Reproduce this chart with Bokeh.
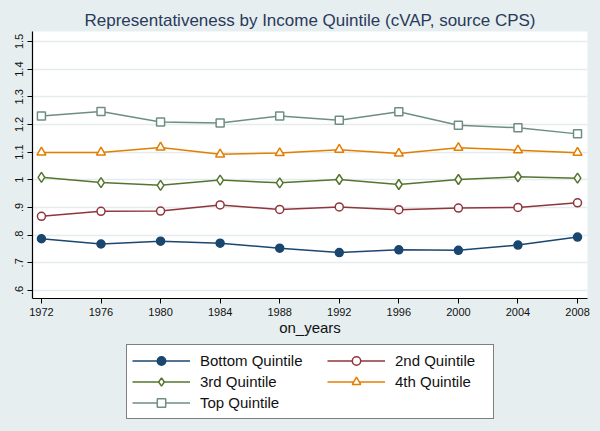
from bokeh.plotting import figure
from bokeh.models import Legend, LegendItem, FixedTicker, Range1d, Title
from bokeh.layouts import column
from bokeh.embed import file_html
from bokeh.resources import INLINE

years = [1972, 1976, 1980, 1984, 1988, 1992, 1996, 2000, 2004, 2008]
bottom_q = [0.787, 0.768, 0.778, 0.771, 0.753, 0.737, 0.747, 0.745, 0.764, 0.793]
second_q = [0.868, 0.886, 0.887, 0.909, 0.893, 0.902, 0.892, 0.898, 0.900, 0.917]
third_q = [1.009, 0.990, 0.980, 0.999, 0.989, 1.001, 0.983, 1.001, 1.011, 1.006]
fourth_q = [1.099, 1.099, 1.117, 1.092, 1.097, 1.109, 1.095, 1.116, 1.107, 1.098]
top_q = [1.231, 1.247, 1.209, 1.205, 1.231, 1.215, 1.246, 1.197, 1.188, 1.166]

y_ticks = [0.6, 0.7, 0.8, 0.9, 1.0, 1.1, 1.2, 1.3, 1.4, 1.5]
y_tick_labels = [".6", ".7", ".8", ".9", "1", "1.1", "1.2", "1.3", "1.4", "1.5"]

BG = "#E6EEF0"
FONT = "Liberation Sans"

p = figure(width=600, height=340, output_backend="svg", toolbar_location=None,
           x_range=Range1d(1971.4, 2008.67), y_range=Range1d(0.571, 1.536),
           min_border_left=32, min_border_right=13, min_border_top=31, min_border_bottom=42)
p.background_fill_color = "white"
p.border_fill_color = BG
p.outline_line_color = None

p.title = Title(text="Representativeness by Income Quintile (cVAP, source CPS)",
                align="center", text_font=FONT, text_font_size="17px",
                text_font_style="normal", text_color="#2a3a5a", standoff=3)

p.xgrid.visible = False
p.ygrid.grid_line_color = "#E4ECEE"
p.ygrid.grid_line_width = 1.5

p.xaxis.ticker = FixedTicker(ticks=years)
p.yaxis.ticker = FixedTicker(ticks=y_ticks)
p.yaxis.major_label_overrides = {t: l for t, l in zip(y_ticks, y_tick_labels)}
p.yaxis.major_label_orientation = "vertical"
for ax in (p.xaxis[0], p.yaxis[0]):
    ax.axis_line_color = "black"
    ax.axis_line_width = 1.2
    ax.major_tick_line_color = "black"
    ax.major_tick_out = 5
    ax.major_tick_in = 0
    ax.minor_tick_line_color = None
    ax.major_label_text_font = FONT
    ax.major_label_text_font_size = "11px"
    ax.major_label_text_color = "#111111"
    ax.major_label_standoff = 4
p.xaxis.axis_label = "on_years"
p.xaxis.axis_label_text_font = FONT
p.xaxis.axis_label_text_font_size = "15px"
p.xaxis.axis_label_text_font_style = "normal"
p.xaxis.axis_label_text_color = "#111111"
p.xaxis.axis_label_standoff = 0

series = [
    ("Bottom Quintile", bottom_q, "#1A476F", "circle", True),
    ("2nd Quintile", second_q, "#90353B", "circle", False),
    ("3rd Quintile", third_q, "#55752F", "diamond", False),
    ("4th Quintile", fourth_q, "#E37E00", "triangle", False),
    ("Top Quintile", top_q, "#6E8E84", "square", False),
]
sizes = {"circle": 8, "diamond": 10, "triangle": 9, "square": 8}
leg_sizes = {"circle": 6, "diamond": 8, "triangle": 8, "square": 7}
for name, vals, col, mk, filled in series:
    p.line(years, vals, line_color=col, line_width=1.5)
    p.scatter(years, vals, marker=mk, size=sizes[mk], line_color=col, line_width=1.5,
              fill_color=col if filled else "white")

# legend panel below the chart (frame aligned with the chart's frame by the column)
lf = figure(width=600, height=91, output_backend="svg", toolbar_location=None,
            x_range=Range1d(0, 1), y_range=Range1d(0, 1),
            x_axis_type=None, y_axis_type=None, min_border=0)
lf.background_fill_color = BG
lf.border_fill_color = BG
lf.outline_line_color = None
lf.grid.visible = False

items = {}
for name, vals, col, mk, filled in series:
    # legend swatches only: placed outside the visible range of the legend panel
    ln = lf.line([-5, -4], [-5, -4], line_color=col, line_width=1.5)
    sc = lf.scatter([-5], [-5], marker=mk, size=leg_sizes[mk], line_color=col, line_width=1.5,
                    fill_color=col if filled else "white")
    items[name] = LegendItem(label=name, renderers=[ln, sc])

common = dict(orientation="vertical", glyph_width=58, glyph_height=21, label_standoff=10,
              spacing=0, padding=5, margin=0, label_text_font=FONT,
              label_text_font_size="15px", label_text_color="#111111")
leg1 = Legend(items=[items["Bottom Quintile"], items["3rd Quintile"], items["Top Quintile"]],
              location=(94, 12), label_width=288,
              border_line_color="black", border_line_width=1.2,
              background_fill_color="white", background_fill_alpha=1.0, **common)
leg2 = Legend(items=[items["2nd Quintile"], items["4th Quintile"]],
              location=(295, 39), border_line_color=None, background_fill_alpha=0.0, **common)
lf.add_layout(leg1, "center")
lf.add_layout(leg2, "center")

layout = column(p, lf, spacing=0, styles={"background-color": BG})
open("out.html", "w").write(file_html(layout, INLINE))
